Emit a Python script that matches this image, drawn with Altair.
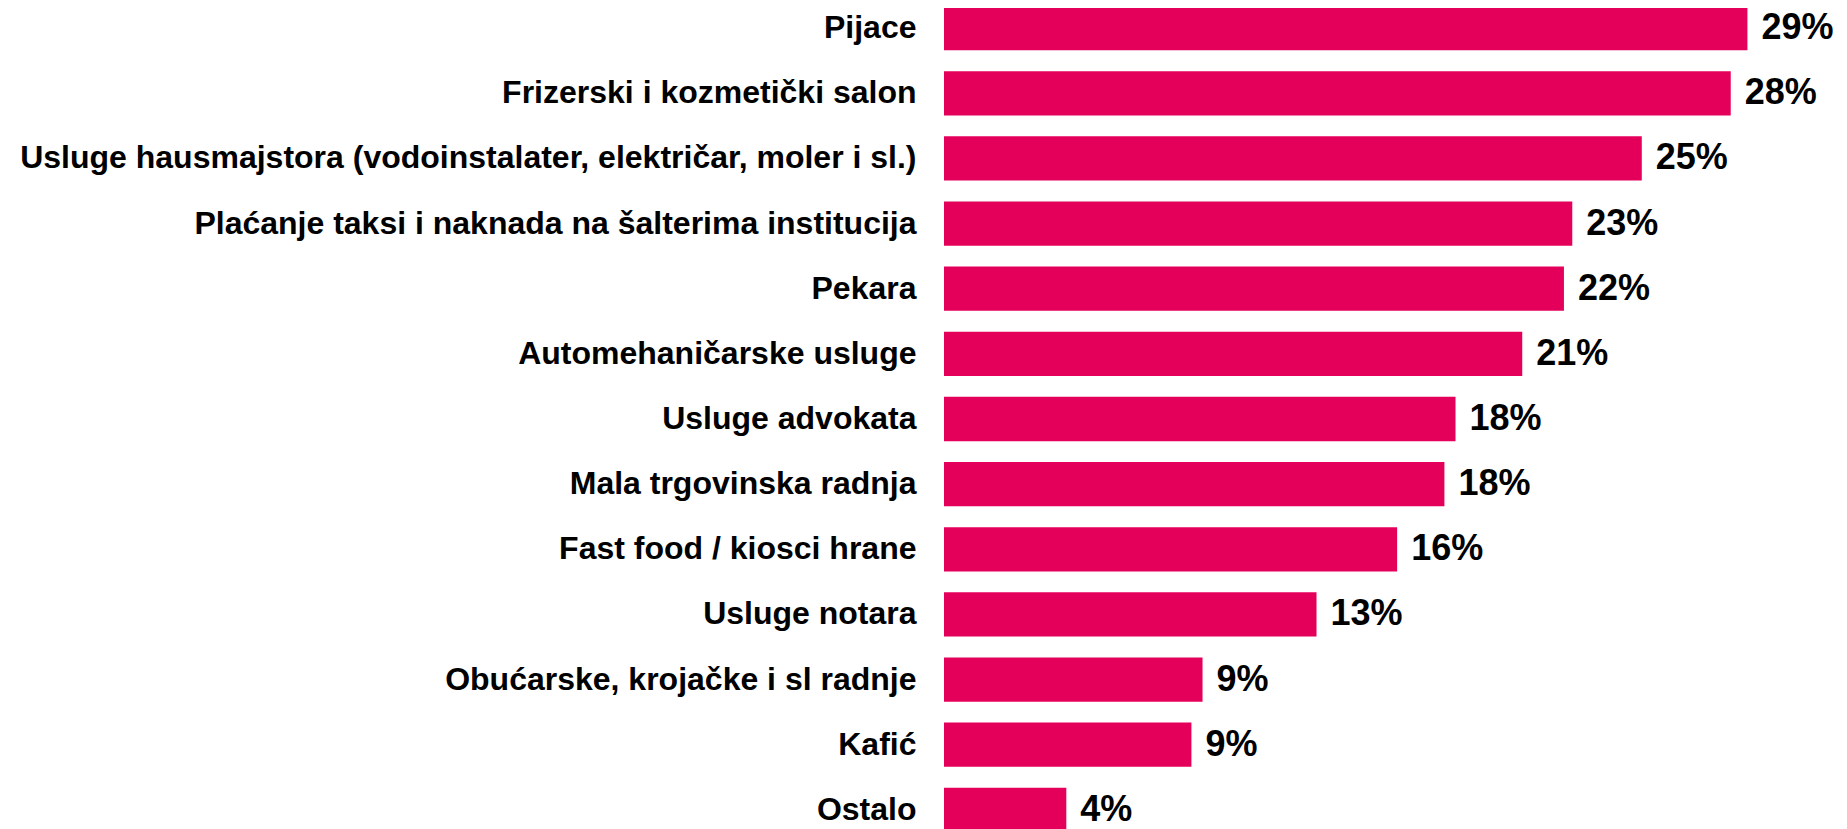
import altair as alt
import pandas as pd

categories = [
    "Pijace",
    "Frizerski i kozmetički salon",
    "Usluge hausmajstora (vodoinstalater, električar, moler i sl.)",
    "Plaćanje taksi i naknada na šalterima institucija",
    "Pekara",
    "Automehaničarske usluge",
    "Usluge advokata",
    "Mala trgovinska radnja",
    "Fast food / kiosci hrane",
    "Usluge notara",
    "Obućarske, krojačke i sl radnje",
    "Kafić",
    "Ostalo",
]
values = [28.9, 28.3, 25.1, 22.6, 22.3, 20.8, 18.4, 18.0, 16.3, 13.4, 9.3, 8.9, 4.4]
labels = [f"{round(v)}%" for v in values]

df = pd.DataFrame({"cat": categories, "val": values, "lab": labels})

FONT = "Liberation Sans"
BAR = "#E4005A"

y = alt.Y(
    "cat:N",
    sort=None,
    title=None,
    scale=alt.Scale(paddingInner=0.32, paddingOuter=0, range=[-2, 824]),
    axis=alt.Axis(
        domain=False,
        ticks=False,
        labelFont=FONT,
        labelFontSize=32,
        labelFontWeight="bold",
        labelColor="#000000",
        labelPadding=28,
        labelLimit=1200,
    ),
)
x = alt.X(
    "val:Q",
    title=None,
    scale=alt.Scale(domain=[0, 30], nice=False),
    axis=None,
)

bars = alt.Chart(df).mark_bar(color=BAR).encode(x=x, y=y)
text = alt.Chart(df).mark_text(
    align="left",
    baseline="middle",
    dx=14,
    font=FONT,
    fontSize=36,
    fontWeight="bold",
    color="#000000",
).encode(x=x, y=y, text="lab:N")

chart = (
    alt.layer(bars, text)
    .properties(
        width=834,
        height=821,
        autosize=alt.AutoSizeParams(type="none"),
        padding={"left": 936, "top": 0, "right": 61, "bottom": 0},
    )
    .configure(background="#ffffff")
    .configure_view(stroke=None, strokeWidth=0)
)

chart.save("out.html", embed_options={"renderer": "svg", "actions": False})
